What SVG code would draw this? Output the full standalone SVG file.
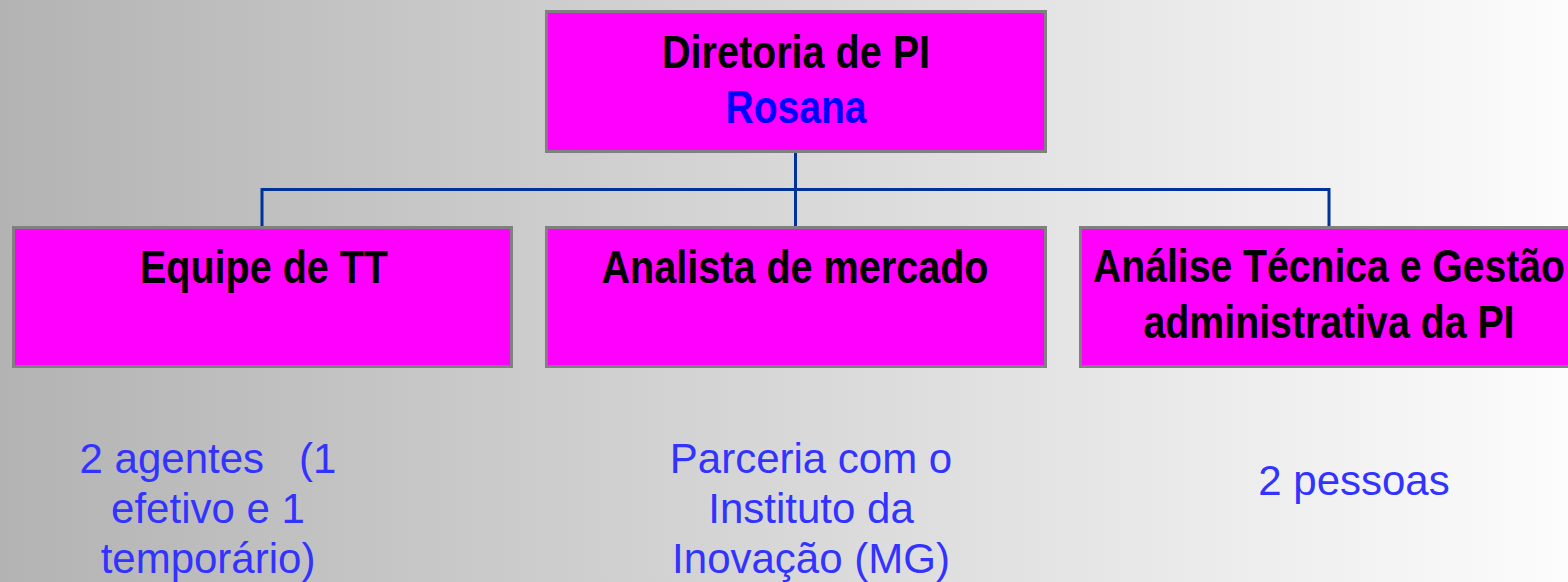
<svg xmlns="http://www.w3.org/2000/svg" width="1568" height="582" viewBox="0 0 1568 582">
<defs>
<linearGradient id="bg" x1="0" y1="0" x2="1" y2="0">
<stop offset="0" stop-color="#b3b3b3"/>
<stop offset="1" stop-color="#fcfcfc"/>
</linearGradient>
</defs>
<style>
.box{fill:#ff00ff;stroke:#808080;stroke-width:3}
.t{font-family:"Liberation Sans",Arial,sans-serif;font-weight:bold;font-size:46px;fill:#000;text-anchor:middle}
.name{fill:#0000ff}
.note{font-family:"Liberation Sans",Arial,sans-serif;font-size:42px;fill:#3333ff;text-anchor:middle;white-space:pre}
.conn{fill:none;stroke:#003399;stroke-width:3}
</style>
<rect x="0" y="0" width="1568" height="582" fill="url(#bg)"/>
<g id="connectors">
<path class="conn" d="M795.5 153 V189.5"/>
<path class="conn" d="M262 226 V189.5 H1329 V226"/>
<path class="conn" d="M795.5 189.5 V226"/>
</g>
<g id="diretoria">
<rect class="box" x="546.5" y="11.5" width="499" height="140"/>
<text class="t" x="796" y="68" textLength="268" lengthAdjust="spacingAndGlyphs">Diretoria de PI</text>
<text class="t name" x="796" y="123" textLength="141" lengthAdjust="spacingAndGlyphs">Rosana</text>
</g>
<g id="equipe">
<rect class="box" x="13.5" y="227.5" width="498" height="139"/>
<text class="t" x="264" y="283" textLength="248" lengthAdjust="spacingAndGlyphs">Equipe de TT</text>
</g>
<g id="analista">
<rect class="box" x="546.5" y="227.5" width="499" height="139"/>
<text class="t" x="795" y="283" textLength="387" lengthAdjust="spacingAndGlyphs">Analista de mercado</text>
</g>
<g id="analise">
<rect class="box" x="1080.5" y="227.5" width="499" height="139"/>
<text class="t" x="1329" y="282" textLength="472" lengthAdjust="spacingAndGlyphs">Análise Técnica e Gestão</text>
<text class="t" x="1329" y="338" textLength="371" lengthAdjust="spacingAndGlyphs">administrativa da PI</text>
</g>
<g id="note-equipe">
<text class="note" x="208" y="473" xml:space="preserve">2 agentes   (1</text>
<text class="note" x="208" y="523">efetivo e 1</text>
<text class="note" x="208" y="573">temporário)</text>
</g>
<g id="note-analista">
<text class="note" x="811" y="473">Parceria com o</text>
<text class="note" x="811" y="523">Instituto da</text>
<text class="note" x="811" y="573">Inovação (MG)</text>
</g>
<g id="note-analise">
<text class="note" x="1354" y="495">2 pessoas</text>
</g>
</svg>
